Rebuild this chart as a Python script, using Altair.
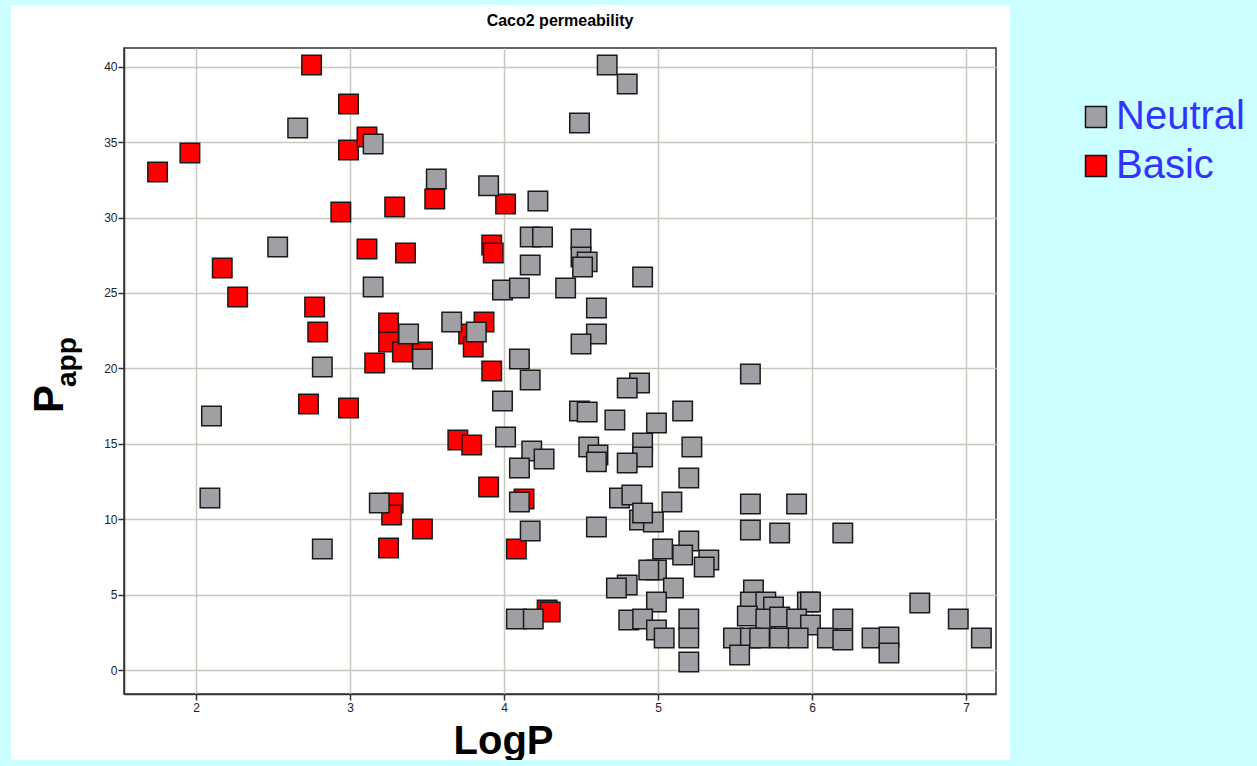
import altair as alt
import pandas as pd

neutral_logp = [2.66, 2.53, 2.10, 2.09, 2.82, 2.82, 3.15, 3.15, 3.19, 3.38, 3.47, 3.56, 3.66, 3.82,
                3.90, 4.22, 4.17, 4.25, 4.50, 4.50, 4.54, 4.51, 4.17, 4.67, 4.80, 4.49, 4.90, 3.99,
                4.10, 4.40, 4.60, 4.60, 4.50, 4.10, 4.17, 3.99, 4.88, 4.80, 4.49, 4.54, 4.72, 5.16,
                4.99, 5.60, 4.01, 4.18, 4.26, 4.55, 4.61, 4.60, 4.90, 4.90, 4.80, 5.22, 4.10, 5.20,
                4.10, 4.75, 4.83, 5.09, 4.88, 4.97, 4.90, 4.60, 4.17, 5.03, 5.20, 5.16, 5.33, 5.30,
                4.99, 4.94, 4.80, 4.73, 5.10, 4.99, 5.20, 5.20, 5.20, 4.08, 4.19, 4.81, 4.90, 4.99,
                5.04, 5.60, 5.90, 5.79, 6.20, 5.60, 5.62, 5.60, 5.70, 5.75, 5.97, 5.99, 5.58, 5.70,
                5.79, 5.90, 5.99, 5.49, 5.60, 5.66, 5.79, 5.91, 6.10, 6.20, 6.20, 6.39, 6.50, 6.50,
                6.70, 6.95, 7.10, 5.53]
neutral_papp = [35.94, 28.05, 16.84, 11.41, 20.09, 8.02, 34.88, 25.40, 11.07, 22.28, 20.62, 32.56, 23.08, 22.41,
                32.10, 31.10, 28.71, 28.71, 28.58, 27.39, 27.06, 26.72, 26.86, 40.12, 38.86, 36.27, 26.06, 25.20,
                25.33, 25.33, 24.01, 22.28, 21.62, 20.62, 19.23, 17.84, 19.03, 18.70, 17.18, 17.11, 16.58, 17.18,
                16.38, 19.63, 15.45, 14.52, 13.99, 14.79, 14.26, 13.80, 15.05, 14.12, 13.73, 14.79, 13.40, 12.73,
                11.14, 11.41, 11.60, 11.14, 9.95, 9.81, 10.41, 9.48, 9.22, 8.02, 8.55, 7.63, 7.29, 6.83,
                6.63, 6.63, 5.64, 5.44, 5.44, 4.51, 3.38, 2.12, 0.53, 3.38, 3.38, 3.32, 3.38, 2.65,
                2.12, 11.01, 11.01, 9.08, 9.08, 9.28, 5.31, 4.51, 4.51, 4.18, 4.51, 4.51, 3.58, 3.38,
                3.51, 3.38, 2.98, 2.12, 2.12, 2.12, 2.12, 2.12, 2.12, 3.38, 1.99, 2.12, 2.19, 1.13,
                4.44, 3.38, 2.12, 0.99]

basic_logp = [1.75, 1.96, 2.17, 2.27, 2.75, 2.77, 2.79, 2.73, 2.99, 2.99, 2.94, 2.99, 3.11, 3.11,
              3.29, 3.16, 3.36, 3.25, 3.25, 3.34, 3.47, 3.28, 3.27, 3.25, 3.47, 3.55, 3.70, 3.79,
              3.77, 3.80, 3.87, 3.92, 3.93, 3.92, 3.90, 4.01, 4.13, 4.08, 4.28, 4.30]
basic_papp = [33.02, 34.28, 26.66, 24.73, 40.12, 24.07, 22.41, 17.64, 37.53, 34.48, 30.37, 17.37, 35.34, 27.92,
              30.70, 20.36, 27.65, 23.01, 21.75, 21.09, 21.09, 11.07, 10.28, 8.09, 9.35, 31.23, 15.25, 14.92,
              22.28, 21.42, 23.08, 28.18, 27.65, 19.83, 12.14, 30.90, 11.34, 8.02, 3.98, 3.85]

type_names = ["Neutral", "Basic"]
type_colors = ["#A0A0A4", "#FF0000"]

rows = [{"LogP": x, "Papp": y, "Type": "Basic"} for x, y in zip(basic_logp, basic_papp)]
rows += [{"LogP": x, "Papp": y, "Type": "Neutral"} for x, y in zip(neutral_logp, neutral_papp)]
df = pd.DataFrame(rows)

W, H = 872, 646
FONT = "Liberation Sans"
xs = alt.Scale(domain=[1.532, 7.195], nice=False, zero=False)
ys = alt.Scale(domain=[-1.59, 41.24], nice=False, zero=False)

one = pd.DataFrame({"a": [0]})


def band(x1, x2, y1, y2):
    return alt.Chart(one).mark_rect(color="#CCFFFF").encode(
        x=alt.value(x1), x2=alt.value(x2), y=alt.value(y1), y2=alt.value(y2))


bands = [band(-130, -113, -60, 730), band(886, 1140, -60, 730),
         band(-130, 1140, -60, -43), band(-130, 1140, 712, 730)]

pts = alt.Chart(df).mark_square(size=380, opacity=1, stroke="#1a1a1a", strokeWidth=1.5).encode(
    x=alt.X("LogP:Q", scale=xs,
            axis=alt.Axis(values=[2, 3, 4, 5, 6, 7], title="LogP", titleFontSize=40,
                          titleFontWeight="bold", titleFont=FONT, titleColor="black",
                          titleX=379, titleY=59, titleBaseline="alphabetic", titleAlign="center",
                          grid=True, gridColor="#C8C8BE", gridWidth=1.5,
                          labelFont=FONT, labelFontSize=12, labelColor="#222",
                          tickSize=6, tickColor="#333", tickWidth=1.5, labelPadding=2,
                          domainColor="#333", domainWidth=1.5)),
    y=alt.Y("Papp:Q", scale=ys,
            axis=alt.Axis(values=list(range(0, 45, 5)), title=None,
                          grid=True, gridColor="#C8C8BE", gridWidth=1.5,
                          labelFont=FONT, labelFontSize=12, labelColor="#222",
                          tickSize=6, tickColor="#333", tickWidth=1.5, labelPadding=1,
                          domainColor="#333", domainWidth=1.5)),
    color=alt.Color("Type:N", scale=alt.Scale(domain=type_names, range=type_colors),
                    legend=alt.Legend(title=None, orient="none", legendX=952, legendY=49,
                                      symbolType="square", symbolSize=441, symbolOpacity=1,
                                      symbolStrokeColor="#111", symbolStrokeWidth=1.5,
                                      labelFont=FONT, labelFontSize=40, labelColor="#3333FF",
                                      labelOffset=0, rowPadding=9)),
)

title_txt = alt.Chart(one).mark_text(text="Caco2 permeability", align="center", baseline="alphabetic",
                                     fontSize=16, fontWeight="bold", font=FONT, color="black").encode(
    x=alt.value(436), y=alt.value(-22))
ytitle_p = alt.Chart(one).mark_text(text="P", angle=270, align="left", baseline="alphabetic",
                                    fontSize=42, fontWeight="bold", font=FONT, color="black").encode(
    x=alt.value(-61), y=alt.value(365))
ytitle_sub = alt.Chart(one).mark_text(text="app", angle=270, align="left", baseline="alphabetic",
                                      fontSize=28, fontWeight="bold", font=FONT, color="black").encode(
    x=alt.value(-48), y=alt.value(339))

chart = alt.layer(*bands, pts, title_txt, ytitle_p, ytitle_sub).properties(
    width=W, height=H,
    background="white",
    autosize=alt.AutoSizeParams(type="none"),
    padding={"left": 124, "top": 48, "right": 261, "bottom": 72},
).configure_view(stroke="#333", strokeWidth=1.5)

chart.save("out.html", embed_options={"renderer": "svg", "actions": False})
